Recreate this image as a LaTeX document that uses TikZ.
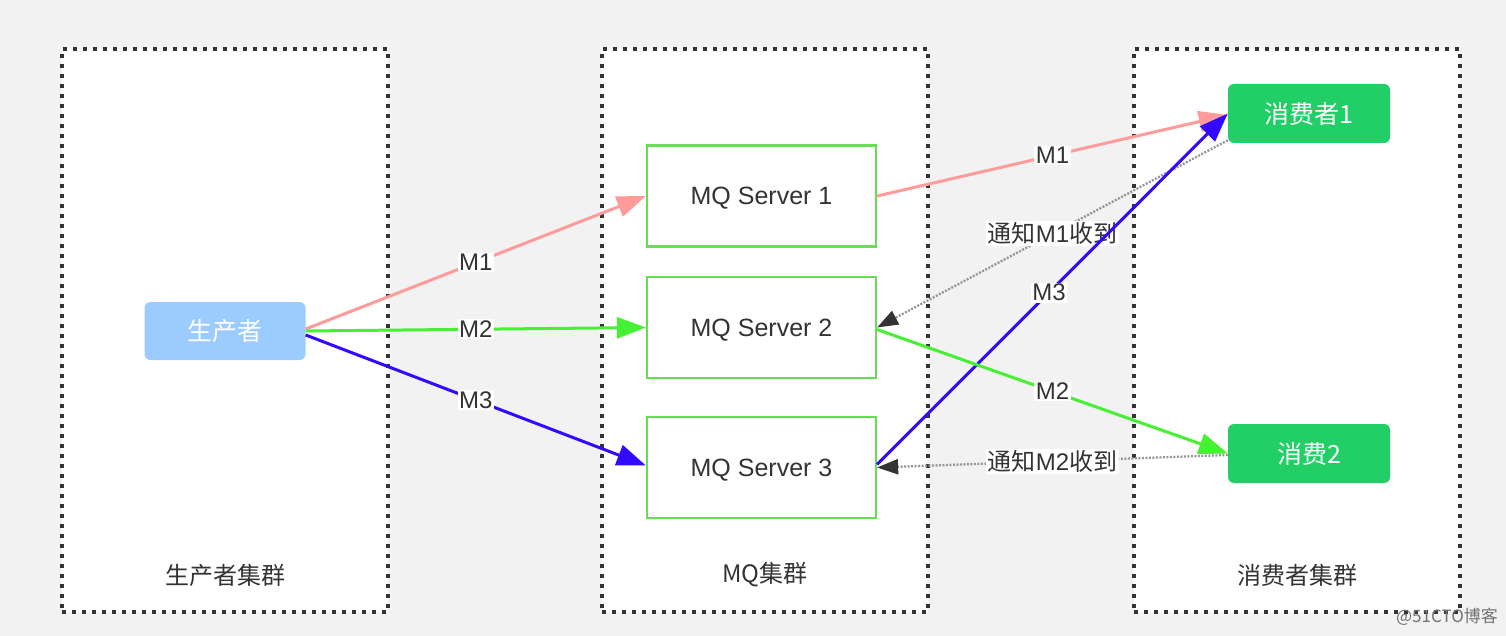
\documentclass[tikz,border=0pt]{standalone}
\usepackage{fontspec}
\setmainfont{Liberation Sans}
\newfontfamily\cjk{Noto Sans CJK SC}
\usetikzlibrary{arrows.meta}
\newcommand{\zh}[1]{{\cjk #1}}
\newcommand{\myfs}[1]{\fontsize{#1}{#1}\selectfont}
\definecolor{bgray}{RGB}{242,242,242}
\definecolor{txt}{RGB}{51,51,51}
\definecolor{mqgreen}{RGB}{102,221,85}
\definecolor{prodblue}{RGB}{156,204,255}
\definecolor{consgreen}{RGB}{34,207,102}
\definecolor{redarr}{RGB}{255,155,155}
\definecolor{greenarr}{RGB}{70,240,50}
\definecolor{bluearr}{RGB}{50,10,255}
\definecolor{dotgray}{RGB}{150,150,150}
\begin{document}
\begin{tikzpicture}[x=1pt,y=-1pt,
  cluster/.style={draw=black!80, line width=4pt, dash pattern=on 4pt off 6pt, fill=white, minimum width=326pt, minimum height=563pt, inner sep=0pt},
  clabel/.style={text=txt, font=\myfs{24}\cjk},
  mqbox/.style={draw=mqgreen, line width=2.2pt, fill=white, minimum width=229pt, minimum height=101pt, inner sep=0pt, text=txt, font=\myfs{25}, text height=18pt, text depth=0pt},
  prodbox/.style={fill=prodblue, rounded corners=6pt, minimum width=161pt, minimum height=58pt, inner sep=0pt, text=white, font=\myfs{25}\cjk},
  consbox/.style={fill=consgreen, rounded corners=6pt, minimum width=162pt, minimum height=59pt, inner sep=0pt, text=white, font=\myfs{25}\cjk},
  lbl/.style={fill=white, inner sep=1.5pt, text=txt, font=\myfs{24}},
  msg/.style={line width=3pt},
  ack/.style={draw=dotgray, line width=2.3pt, dash pattern=on 2pt off 1.5pt, -{Triangle[length=21pt,width=15pt,color=black!80]}}
]
\useasboundingbox (0,0) rectangle (1506,636);
\fill[bgray] (0,0) rectangle (1506,636);

% clusters
\node[cluster] (cl1) at (225,330.5) {};
\node[cluster] (cl2) at (765,330.5) {};
\node[cluster] (cl3) at (1297,330.5) {};
\node[clabel] (cl1t) at (225,575) {生产者集群};
\node[clabel] (cl2t) at (765,575) {MQ集群};
\node[clabel] (cl3t) at (1297,575) {消费者集群};

% nodes
\node[prodbox] (prod) at (225,331) {生产者};
\node[mqbox] (mq1) at (761.5,196) {MQ Server 1};
\node[mqbox] (mq2) at (761.5,327.5) {MQ Server 2};
\node[mqbox] (mq3) at (761.5,467.5) {MQ Server 3};
\node[consbox] (c1) at (1309,113.5) {消费者1};
\node[consbox] (c2) at (1309,453.5) {消费2};

% producer -> servers
\draw[msg, draw=redarr, -{Triangle[length=29pt,width=21pt,color=redarr]}] ([yshift=2pt]prod.east) -- node[lbl] {M1} (mq1.west);
\draw[msg, draw=greenarr, -{Triangle[length=29pt,width=21pt,color=greenarr]}] (prod.east) -- node[lbl] {M2} (mq2.west);
\draw[msg, draw=bluearr, -{Triangle[length=29pt,width=21pt,color=bluearr]}] ([yshift=-4pt]prod.east) -- node[lbl] {M3} ([yshift=2pt]mq3.west);

% servers -> consumers
\draw[msg, draw=redarr, -{Triangle[length=29pt,width=21pt,color=redarr]}] (mq1.east) -- node[lbl] {M1} ([yshift=-1.5pt]c1.west);
\draw[ack] ([yshift=3pt]c1.south west) -- node[lbl] {\zh{通知}M1\zh{收到}} (mq2.east);
\draw[msg, draw=bluearr, -{Triangle[length=29pt,width=21pt,color=bluearr]}] ([yshift=3pt]mq3.east) -- node[lbl, pos=0.49] {M3} (c1.west);
\draw[msg, draw=greenarr, -{Triangle[length=29pt,width=21pt,color=greenarr]}] ([yshift=-2pt]mq2.east) -- node[lbl] {M2} (c2.west);
\draw[ack] ([yshift=-1.5pt]c2.west) -- node[lbl] {\zh{通知}M2\zh{收到}} (mq3.east);

% watermark
\node[text=black!55, font=\myfs{17}\cjk] (wm) at (1447,617) {@51CTO博客};
\end{tikzpicture}
\end{document}
